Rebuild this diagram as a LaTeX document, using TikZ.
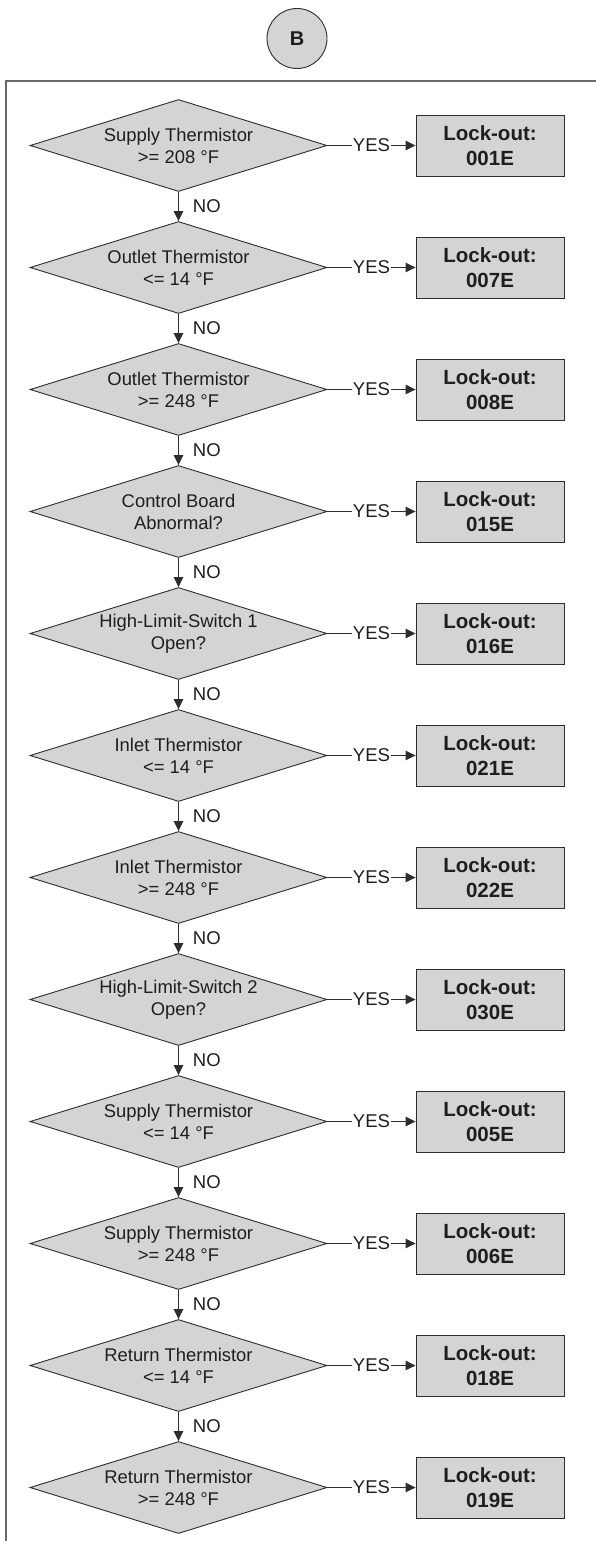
\documentclass[tikz,border=0pt]{standalone}
\usepackage{fontspec}
\setmainfont{Liberation Sans}
\usetikzlibrary{shapes.geometric,arrows.meta}
\definecolor{shapegray}{RGB}{212,212,212}
\definecolor{linegray}{RGB}{45,45,45}
\definecolor{framegray}{RGB}{105,105,105}
\definecolor{textgray}{RGB}{30,30,30}
\tikzset{
  check/.style={diamond, draw=linegray, fill=shapegray, line width=0.9pt,
    aspect=3.23, inner sep=0pt, minimum width=297pt, minimum height=92pt,
    align=center, text=textgray, font=\fontsize{18.4}{22}\selectfont},
  lockout/.style={rectangle, draw=linegray, fill=shapegray, line width=0.9pt,
    inner sep=0pt, minimum width=148pt, minimum height=61pt,
    align=center, text=textgray, font=\fontsize{20.5}{25.5}\selectfont\bfseries},
  connector/.style={draw=linegray, line width=0.9pt, -{Triangle[length=10pt,width=9.5pt]}},
  yes/.style={fill=white, inner xsep=1pt, inner ysep=0pt, text=textgray,
    font=\fontsize{18.5}{22}\selectfont},
  no/.style={right, xshift=14pt, inner sep=0pt, text=textgray,
    font=\fontsize{18.5}{22}\selectfont},
}
\begin{document}
\begin{tikzpicture}[x=1pt,y=-1pt]
\useasboundingbox (0,0) rectangle (596,1541);
% frame and connector circle
\draw[framegray, line width=1.2pt] (6,1541) -- (6,81) -- (596,81);
\node[circle, draw=linegray, fill=shapegray, line width=0.9pt, minimum size=60pt, inner sep=0pt,
  text=textgray, font=\fontsize{20}{24}\selectfont\bfseries] (B) at (297,38.5) {B};
% decisions
\node[check] (c1) at (178.5,145.5) {Supply Thermistor\\>= 208 °F};
\node[check] (c2) at (178.5,267.5) {Outlet Thermistor\\<= 14 °F};
\node[check] (c3) at (178.5,389.5) {Outlet Thermistor\\>= 248 °F};
\node[check] (c4) at (178.5,511.5) {Control Board\\Abnormal?};
\node[check] (c5) at (178.5,633.5) {High-Limit-Switch 1\\Open?};
\node[check] (c6) at (178.5,755.5) {Inlet Thermistor\\<= 14 °F};
\node[check] (c7) at (178.5,877.5) {Inlet Thermistor\\>= 248 °F};
\node[check] (c8) at (178.5,999.5) {High-Limit-Switch 2\\Open?};
\node[check] (c9) at (178.5,1121.5) {Supply Thermistor\\<= 14 °F};
\node[check] (c10) at (178.5,1243.5) {Supply Thermistor\\>= 248 °F};
\node[check] (c11) at (178.5,1365.5) {Return Thermistor\\<= 14 °F};
\node[check] (c12) at (178.5,1487.5) {Return Thermistor\\>= 248 °F};
% lock-out codes
\node[lockout] (e1) at (490,145.5) {Lock-out:\\001E};
\node[lockout] (e2) at (490,267.5) {Lock-out:\\007E};
\node[lockout] (e3) at (490,389.5) {Lock-out:\\008E};
\node[lockout] (e4) at (490,511.5) {Lock-out:\\015E};
\node[lockout] (e5) at (490,633.5) {Lock-out:\\016E};
\node[lockout] (e6) at (490,755.5) {Lock-out:\\021E};
\node[lockout] (e7) at (490,877.5) {Lock-out:\\022E};
\node[lockout] (e8) at (490,999.5) {Lock-out:\\030E};
\node[lockout] (e9) at (490,1121.5) {Lock-out:\\005E};
\node[lockout] (e10) at (490,1243.5) {Lock-out:\\006E};
\node[lockout] (e11) at (490,1365.5) {Lock-out:\\018E};
\node[lockout] (e12) at (490,1487.5) {Lock-out:\\019E};
% yes branches
\path[connector] (c1) -- node[yes] {YES} (e1);
\path[connector] (c2) -- node[yes] {YES} (e2);
\path[connector] (c3) -- node[yes] {YES} (e3);
\path[connector] (c4) -- node[yes] {YES} (e4);
\path[connector] (c5) -- node[yes] {YES} (e5);
\path[connector] (c6) -- node[yes] {YES} (e6);
\path[connector] (c7) -- node[yes] {YES} (e7);
\path[connector] (c8) -- node[yes] {YES} (e8);
\path[connector] (c9) -- node[yes] {YES} (e9);
\path[connector] (c10) -- node[yes] {YES} (e10);
\path[connector] (c11) -- node[yes] {YES} (e11);
\path[connector] (c12) -- node[yes] {YES} (e12);
% no branches
\path[connector] (c1) -- node[no] {NO} (c2);
\path[connector] (c2) -- node[no] {NO} (c3);
\path[connector] (c3) -- node[no] {NO} (c4);
\path[connector] (c4) -- node[no] {NO} (c5);
\path[connector] (c5) -- node[no] {NO} (c6);
\path[connector] (c6) -- node[no] {NO} (c7);
\path[connector] (c7) -- node[no] {NO} (c8);
\path[connector] (c8) -- node[no] {NO} (c9);
\path[connector] (c9) -- node[no] {NO} (c10);
\path[connector] (c10) -- node[no] {NO} (c11);
\path[connector] (c11) -- node[no] {NO} (c12);
\end{tikzpicture}
\end{document}
